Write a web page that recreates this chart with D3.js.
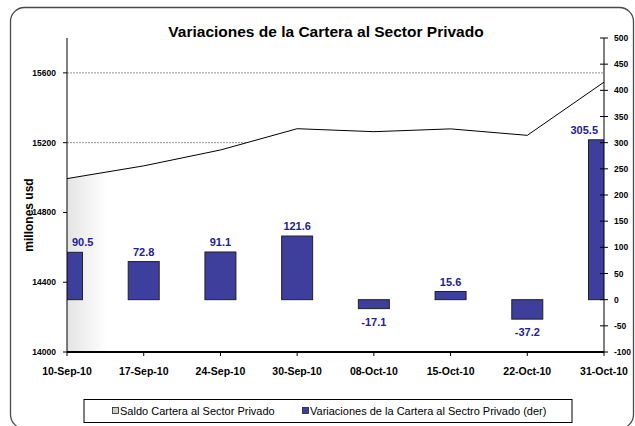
<!DOCTYPE html>
<html>
<head>
<meta charset="utf-8">
<script src="https://cdn.jsdelivr.net/npm/d3@7"></script>
<style>
  body { margin: 0; background: #fff; }
  text { font-family: "Liberation Sans", Arial, sans-serif; }
</style>
</head>
<body>
<svg width="635" height="426"></svg>
<script>
// data
var fechas = ["10-Sep-10", "17-Sep-10", "24-Sep-10", "30-Sep-10", "08-Oct-10", "15-Oct-10", "22-Oct-10", "31-Oct-10"];
var saldo = [14994, 15067, 15158, 15280, 15263, 15279, 15242, 15547];
var variaciones = [90.5, 72.8, 91.1, 121.6, -17.1, 15.6, -37.2, 305.5];
var ticksIzq = [14000, 14400, 14800, 15200, 15600];
var ticksDer = [-100, -50, 0, 50, 100, 150, 200, 250, 300, 350, 400, 450, 500];

var svg = d3.select("svg");
var pL = 67, pR = 604, pT = 38, pB = 352;

var x = d3.scalePoint().domain(fechas).range([pL, pR]);
var yL = d3.scaleLinear().domain([14000, 15800]).range([pB, pT]);
var yR = d3.scaleLinear().domain([-100, 500]).range([pB, pT]);

// frame
svg.append("rect")
    .attr("x", 10.5).attr("y", 7.5)
    .attr("width", 623).attr("height", 421)
    .attr("rx", 14)
    .attr("fill", "none")
    .attr("stroke", "#4a4a4a")
    .attr("stroke-width", 1.3);

// title
svg.append("text")
    .attr("x", 326).attr("y", 37)
    .attr("text-anchor", "middle")
    .attr("font-size", "15.5px")
    .attr("font-weight", "bold")
    .text("Variaciones de la Cartera al Sector Privado");

var defs = svg.append("defs");
var grad = defs.append("linearGradient")
    .attr("id", "sombra")
    .attr("gradientUnits", "userSpaceOnUse")
    .attr("x1", pL).attr("x2", pL + 40)
    .attr("y1", 0).attr("y2", 0);
grad.append("stop").attr("offset", 0).attr("stop-color", "#e4e4e4");
grad.append("stop").attr("offset", 1).attr("stop-color", "#ffffff");

defs.append("clipPath").attr("id", "plot")
  .append("rect")
    .attr("x", pL).attr("y", pT)
    .attr("width", pR - pL).attr("height", pB - pT);

// gridlines
svg.append("g")
  .selectAll("line")
  .data(ticksIzq.slice(1))
  .enter().append("line")
    .attr("x1", pL).attr("x2", pR)
    .attr("y1", function(d) { return yL(d); })
    .attr("y2", function(d) { return yL(d); })
    .attr("stroke", "#777")
    .attr("stroke-width", 0.8)
    .attr("stroke-dasharray", "2,1");

// area under saldo (hides gridlines)
var area = d3.area()
    .x(function(d, i) { return x(fechas[i]); })
    .y0(pB)
    .y1(function(d) { return yL(d); });
svg.append("path")
    .datum(saldo)
    .attr("d", area)
    .attr("fill", "url(#sombra)");

svg.append("path")
    .datum(saldo)
    .attr("d", d3.line()
        .x(function(d, i) { return x(fechas[i]); })
        .y(function(d) { return yL(d); }))
    .attr("fill", "none")
    .attr("stroke", "#000")
    .attr("stroke-width", 1);

// bars
var barW = 31;
svg.append("g")
    .attr("clip-path", "url(#plot)")
  .selectAll("rect")
  .data(variaciones)
  .enter().append("rect")
    .attr("x", function(d, i) { return x(fechas[i]) - barW / 2; })
    .attr("y", function(d) { return yR(Math.max(0, d)); })
    .attr("width", barW)
    .attr("height", function(d) { return Math.abs(yR(d) - yR(0)); })
    .attr("fill", "#3e3e9c")
    .attr("stroke", "#222")
    .attr("stroke-width", 1);

// bar labels
svg.append("g")
  .selectAll("text")
  .data(variaciones)
  .enter().append("text")
    .attr("text-anchor", "middle")
    .attr("font-size", "11px")
    .attr("font-weight", "bold")
    .attr("fill", "#22228f")
    .attr("y", function(d) { return d >= 0 ? yR(d) - 6 : yR(d) + 17; })
    .text(function(d) { return d.toFixed(1); })
    .attr("x", function(d, i) {
        var w = this.getComputedTextLength();
        var cx = x(fechas[i]);
        return Math.max(pL + w / 2 + 5, Math.min(pR - w / 2 - 6, cx));
    });

// left axis
var gL = svg.append("g");
gL.append("line")
    .attr("x1", pL).attr("x2", pL)
    .attr("y1", pT).attr("y2", pB)
    .attr("stroke", "#000");
gL.selectAll("line.t")
  .data(ticksIzq)
  .enter().append("line")
    .attr("class", "t")
    .attr("x1", pL - 4).attr("x2", pL)
    .attr("y1", function(d) { return yL(d); })
    .attr("y2", function(d) { return yL(d); })
    .attr("stroke", "#000");
gL.selectAll("text")
  .data(ticksIzq)
  .enter().append("text")
    .attr("x", pL - 11)
    .attr("y", function(d) { return yL(d) + 3; })
    .attr("text-anchor", "end")
    .attr("font-size", "8.5px")
    .attr("font-weight", "bold")
    .text(function(d) { return d; });

svg.append("text")
    .attr("transform", "translate(33,215) rotate(-90)")
    .attr("text-anchor", "middle")
    .attr("font-size", "12px")
    .attr("font-weight", "bold")
    .text("millones usd");

// right axis
var gR = svg.append("g");
gR.append("line")
    .attr("x1", pR).attr("x2", pR)
    .attr("y1", pT).attr("y2", pB)
    .attr("stroke", "#000");
gR.selectAll("line.t")
  .data(ticksDer)
  .enter().append("line")
    .attr("class", "t")
    .attr("x1", pR - 4).attr("x2", pR + 4)
    .attr("y1", function(d) { return yR(d); })
    .attr("y2", function(d) { return yR(d); })
    .attr("stroke", "#000");
gR.selectAll("text")
  .data(ticksDer)
  .enter().append("text")
    .attr("x", pR + 10)
    .attr("y", function(d) { return yR(d) + 3; })
    .attr("font-size", "8.5px")
    .attr("font-weight", "bold")
    .text(function(d) { return d; });

// bottom axis
var gB = svg.append("g");
gB.append("line")
    .attr("x1", pL).attr("x2", pR)
    .attr("y1", pB).attr("y2", pB)
    .attr("stroke", "#000")
    .attr("stroke-width", 2);
gB.selectAll("line.t")
  .data(fechas)
  .enter().append("line")
    .attr("class", "t")
    .attr("x1", function(d) { return x(d); })
    .attr("x2", function(d) { return x(d); })
    .attr("y1", pB).attr("y2", pB + 4)
    .attr("stroke", "#000");
gB.selectAll("text")
  .data(fechas)
  .enter().append("text")
    .attr("x", function(d) { return x(d); })
    .attr("y", 375)
    .attr("text-anchor", "middle")
    .attr("font-size", "10.5px")
    .attr("font-weight", "bold")
    .text(function(d) { return d; });

// legend
var leg = svg.append("g");
leg.append("rect")
    .attr("x", 84).attr("y", 399.5)
    .attr("width", 488).attr("height", 23)
    .attr("fill", "#fff")
    .attr("stroke", "#000")
    .attr("stroke-width", 1);
var items = [
    { label: "Saldo Cartera al Sector Privado", fill: "#cfcfcf", x: 112 },
    { label: "Variaciones de la Cartera al Sectro Privado (der)", fill: "#3e3e9c", x: 302 }
];
items.forEach(function(it) {
    leg.append("rect")
        .attr("x", it.x + 0.5).attr("y", 407.5)
        .attr("width", 6).attr("height", 6)
        .attr("fill", it.fill)
        .attr("stroke", "#222")
        .attr("stroke-width", 0.8);
    leg.append("text")
        .attr("x", it.x + 8)
        .attr("y", 415)
        .attr("font-size", "11px")
        .text(it.label);
});
</script>
</body>
</html>
